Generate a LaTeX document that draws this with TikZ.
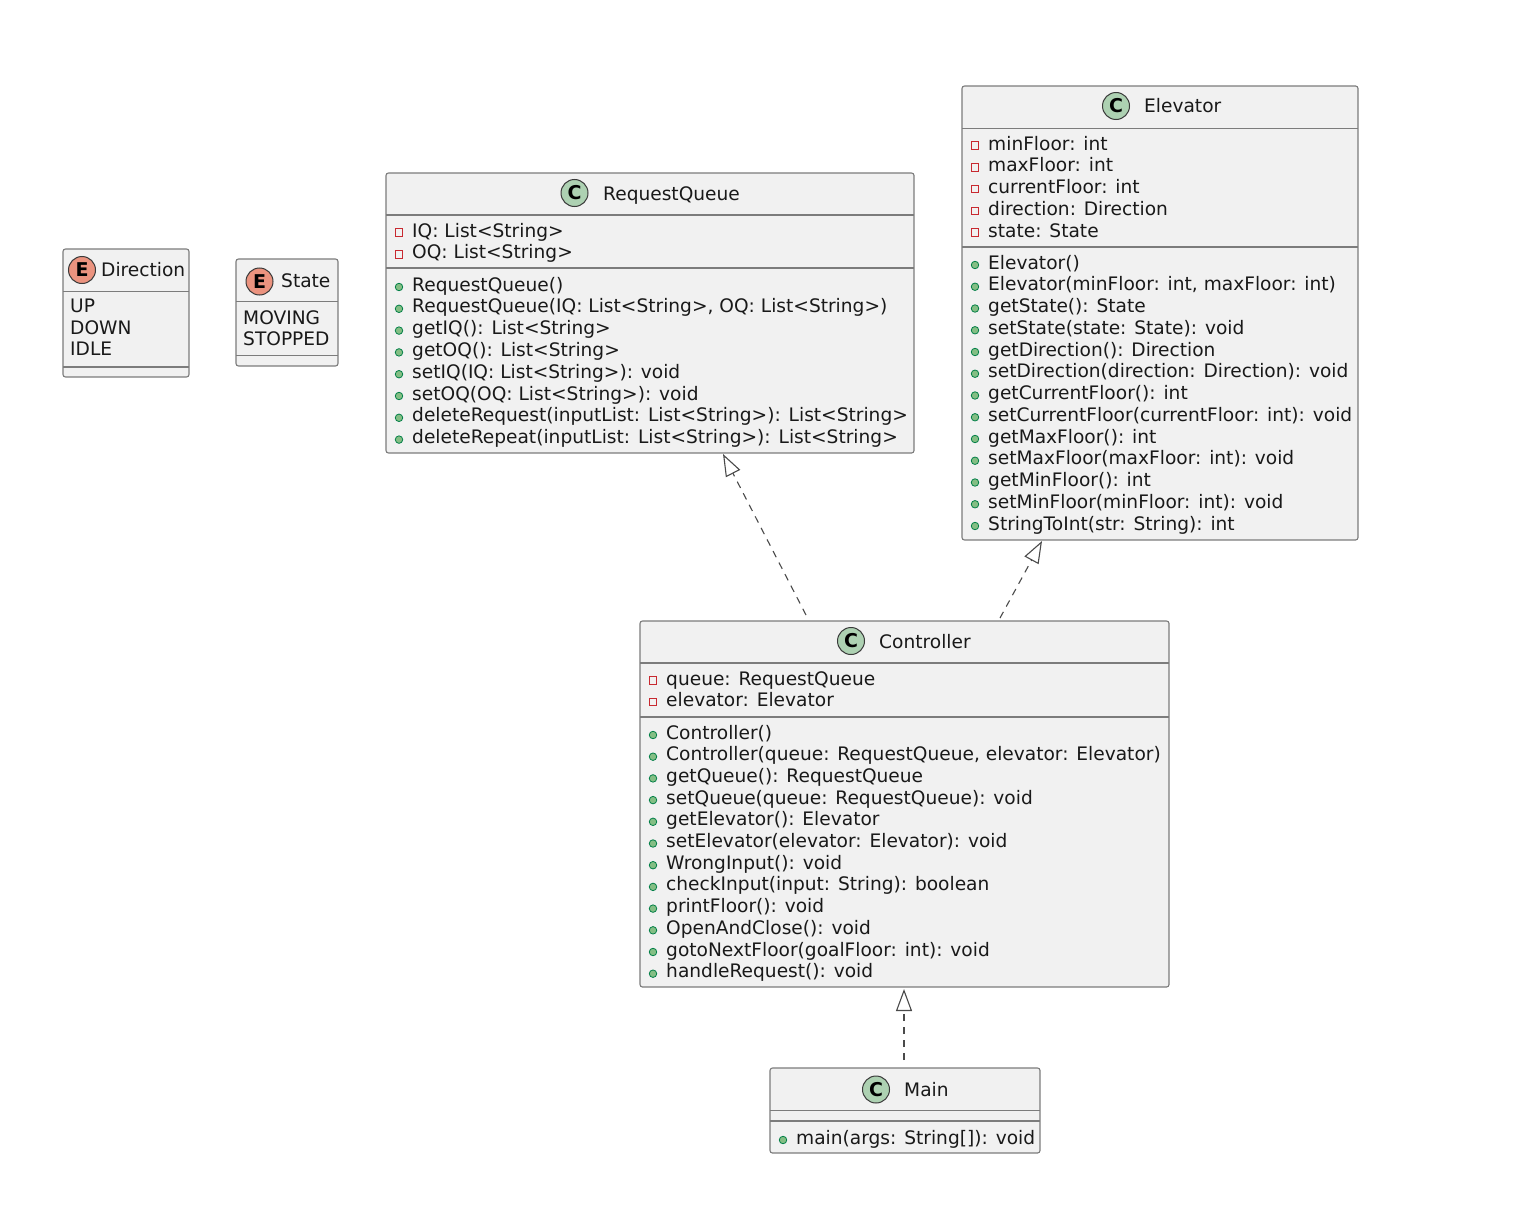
\documentclass[tikz,border=0pt]{standalone}
\usepackage{fontspec}
\setmainfont{DejaVu Sans}
\usetikzlibrary{arrows.meta}
\definecolor{boxfill}{HTML}{F1F1F1}
\definecolor{boxline}{HTML}{7C7C7C}
\definecolor{cgreen}{HTML}{ADD1B2}
\definecolor{eorange}{HTML}{EB937F}
\definecolor{badgeline}{HTML}{3A3A3A}
\definecolor{privred}{HTML}{C82930}
\definecolor{pubfill}{HTML}{84BE84}
\definecolor{publine}{HTML}{038048}
\definecolor{arrowc}{HTML}{4A4A4A}
\newcounter{mc}
\newcommand\startrows[3]{\def\rowx{#1}\pgfmathsetmacro\rowy{#2}\def\rowstep{#3}}
\newcommand\pubrow[1]{\stepcounter{mc}%
  \node[pubm] (mk\arabic{mc}) at ({\rowx},{\rowy-4}) {};
  \node[txt] (tx\arabic{mc}) at ({\rowx+13},{\rowy}) {#1};
  \pgfmathsetmacro\rowy{\rowy+\rowstep}}
\newcommand\privrow[1]{\stepcounter{mc}%
  \node[privm] (mk\arabic{mc}) at ({\rowx},{\rowy-4.5}) {};
  \node[txt] (tx\arabic{mc}) at ({\rowx+13},{\rowy}) {#1};
  \pgfmathsetmacro\rowy{\rowy+\rowstep}}
\newcommand\plainrow[1]{\stepcounter{mc}%
  \node[txt] (tx\arabic{mc}) at ({\rowx},{\rowy}) {#1};
  \pgfmathsetmacro\rowy{\rowy+\rowstep}}
% name, x1, y1, x2, y2
\newcommand\umlbox[5]{%
  \node[classbox, anchor=north west, minimum width={#4-#2}, minimum height={#5-#3}] (#1) at (#2,#3) {};}
\newcommand\sepat[3]{\draw[sepline] (#1.west |- 0,#3) -- (#1.east |- 0,#3);}
\tikzset{
  classbox/.style={draw=boxline, fill=boxfill, line width=1.1pt, rounded corners=2.5pt, inner sep=0, outer sep=0},
  sepline/.style={draw=boxline, line width=1.1pt},
  txt/.style={anchor=base west, inner sep=0, font=\fontsize{18.6}{22}\selectfont, text=black!90},
  privm/.style={rectangle, draw=privred, line width=1pt, minimum size=7.5pt, inner sep=0},
  pubm/.style={circle, draw=publine, fill=pubfill, line width=0.8pt, minimum size=7.5pt, inner sep=0},
  badge/.style={circle, draw=badgeline, line width=1pt, minimum size=27pt, inner sep=0, font=\fontsize{19}{19}\bfseries\selectfont},
  realize/.style={draw=arrowc, line width=1.1pt, dash pattern=on 7pt off 6pt, -{Triangle[open, length=22pt, width=16pt, fill=white, line width=1.1pt]}},
}
\begin{document}
\begin{tikzpicture}[x=1pt,y=-1pt]
\useasboundingbox[fill=white] (0,0) rectangle (1538,1212);

% ---------- Direction ----------
\umlbox{dir}{63}{249}{189}{377}
\sepat{dir}{63}{291.5}
\sepat{dir}{63}{367}
\node[badge, fill=eorange] (dirb) at (82,270) {E};
\node[txt] (dirt) at (101,276) {Direction};
\startrows{70}{312.5}{21.7}
\plainrow{UP}
\plainrow{DOWN}
\plainrow{IDLE}

% ---------- State ----------
\umlbox{st}{236}{259}{338}{366}
\sepat{st}{236}{301.5}
\sepat{st}{236}{355.5}
\node[badge, fill=eorange] (stb) at (259.5,281.5) {E};
\node[txt] (stt) at (281,287) {State};
\startrows{243}{324}{21.7}
\plainrow{MOVING}
\plainrow{STOPPED}

% ---------- RequestQueue ----------
\umlbox{rq}{386}{173}{914}{453}
\sepat{rq}{386}{215}
\sepat{rq}{386}{268}
\node[badge, fill=cgreen] (rqb) at (574.5,193) {C};
\node[txt] (rqt) at (603,200) {RequestQueue};
\startrows{399}{237}{21.8}
\privrow{IQ: List<String>}
\privrow{OQ: List<String>}
\startrows{399}{291}{21.8}
\pubrow{RequestQueue()}
\pubrow{RequestQueue(IQ: List<String>, OQ: List<String>)}
\pubrow{getIQ(): List<String>}
\pubrow{getOQ(): List<String>}
\pubrow{setIQ(IQ: List<String>): void}
\pubrow{setOQ(OQ: List<String>): void}
\pubrow{deleteRequest(inputList: List<String>): List<String>}
\pubrow{deleteRepeat(inputList: List<String>): List<String>}

% ---------- Elevator ----------
\umlbox{el}{962}{86}{1358}{540}
\sepat{el}{962}{128.3}
\sepat{el}{962}{247}
\node[badge, fill=cgreen] (elb) at (1116,106) {C};
\node[txt] (elt) at (1144,113) {Elevator};
\startrows{975}{150}{21.75}
\privrow{minFloor: int}
\privrow{maxFloor: int}
\privrow{currentFloor: int}
\privrow{direction: Direction}
\privrow{state: State}
\startrows{975}{269}{21.75}
\pubrow{Elevator()}
\pubrow{Elevator(minFloor: int, maxFloor: int)}
\pubrow{getState(): State}
\pubrow{setState(state: State): void}
\pubrow{getDirection(): Direction}
\pubrow{setDirection(direction: Direction): void}
\pubrow{getCurrentFloor(): int}
\pubrow{setCurrentFloor(currentFloor: int): void}
\pubrow{getMaxFloor(): int}
\pubrow{setMaxFloor(maxFloor: int): void}
\pubrow{getMinFloor(): int}
\pubrow{setMinFloor(minFloor: int): void}
\pubrow{StringToInt(str: String): int}

% ---------- Controller ----------
\umlbox{ct}{640}{621}{1169}{987}
\sepat{ct}{640}{663}
\sepat{ct}{640}{717}
\node[badge, fill=cgreen] (ctb) at (851,641) {C};
\node[txt] (ctt) at (879,648) {Controller};
\startrows{653}{685}{21.7}
\privrow{queue: RequestQueue}
\privrow{elevator: Elevator}
\startrows{653}{739}{21.7}
\pubrow{Controller()}
\pubrow{Controller(queue: RequestQueue, elevator: Elevator)}
\pubrow{getQueue(): RequestQueue}
\pubrow{setQueue(queue: RequestQueue): void}
\pubrow{getElevator(): Elevator}
\pubrow{setElevator(elevator: Elevator): void}
\pubrow{WrongInput(): void}
\pubrow{checkInput(input: String): boolean}
\pubrow{printFloor(): void}
\pubrow{OpenAndClose(): void}
\pubrow{gotoNextFloor(goalFloor: int): void}
\pubrow{handleRequest(): void}

% ---------- Main ----------
\umlbox{mn}{770}{1068}{1040}{1153}
\sepat{mn}{770}{1110.5}
\sepat{mn}{770}{1121}
\node[badge, fill=cgreen] (mnb) at (876,1089.5) {C};
\node[txt] (mnt) at (904,1096) {Main};
\startrows{783}{1144}{21.7}
\pubrow{main(args: String[]): void}

% ---------- connectors ----------
\coordinate (ctA) at (806,615);
\coordinate (rqA) at (723,454);
\coordinate (ctB) at (1000,618);
\coordinate (elA) at (1042,541);
\coordinate (mnA) at (904,1060);
\coordinate (ctC) at (904,989);
\draw[realize] (ctA) -- (rqA);
\draw[realize] (ctB) -- (elA);
\draw[realize] (mnA) -- (ctC);
\end{tikzpicture}
\end{document}
